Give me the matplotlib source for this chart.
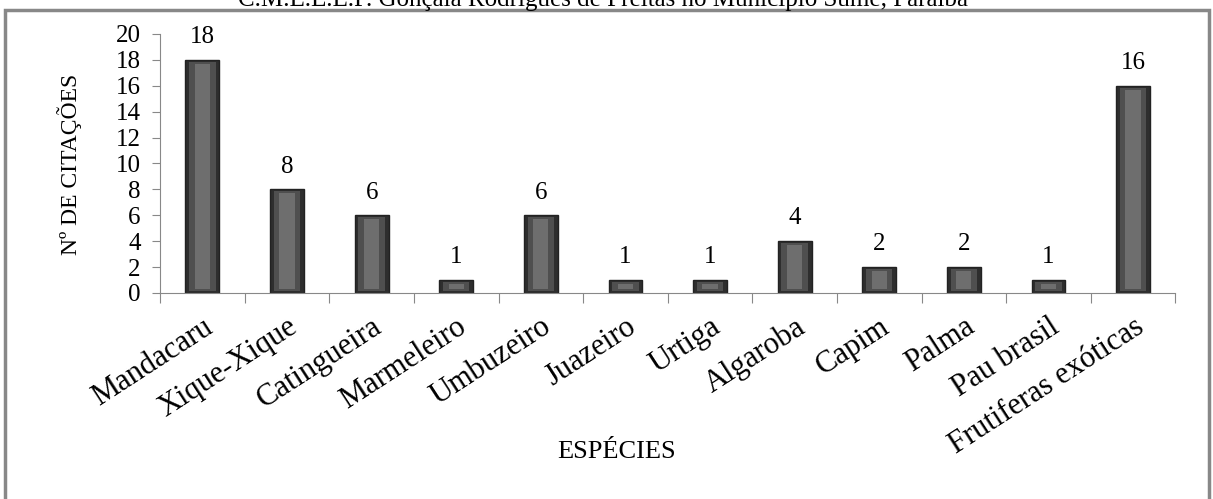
import matplotlib
matplotlib.use("Agg")
import matplotlib.pyplot as plt
from matplotlib.patches import Rectangle

especies = ["Mandacaru", "Xique-Xique", "Catingueira", "Marmeleiro", "Umbuzeiro",
            "Juazeiro", "Urtiga", "Algaroba", "Capim", "Palma", "Pau brasil",
            "Frutiferas exóticas"]
citacoes = [18, 8, 6, 1, 6, 1, 1, 4, 2, 2, 1, 16]
yticks = [0, 2, 4, 6, 8, 10, 12, 14, 16, 18, 20]

titulo = "C.M.E.E.E.F. Gonçala Rodrigues de Freitas no Município Sumé, Paraíba"

plt.rcParams["font.family"] = ["Liberation Serif", "DejaVu Serif"]

fig = plt.figure(figsize=(12.13, 4.99), dpi=100)
ax = fig.add_axes([0.132, 0.413, 0.837, 0.519])

x = list(range(len(especies)))
w = 0.4
# layered bars to fake the bevelled look of the original
ax.bar(x, citacoes, width=w, color="#2e2e2e", edgecolor="#222222", linewidth=1, zorder=2)
ax.bar(x, [v - 0.3 for v in citacoes], bottom=0.15, width=w * 0.78,
       color="#4f4f4f", linewidth=0, zorder=3)
ax.bar(x, [v - 0.6 for v in citacoes], bottom=0.3, width=w * 0.45,
       color="#6e6e6e", linewidth=0, zorder=4)

for xi, v in zip(x, citacoes):
    ax.text(xi, v + 0.9, str(v), ha="center", va="bottom", fontsize=18)

ax.set_xlim(-0.5, len(especies) - 0.5)
ax.set_ylim(0, 20)
ax.set_yticks(yticks)
ax.set_yticklabels([str(t) for t in yticks], fontsize=18)

ax.set_xticks([i - 0.5 for i in range(len(especies) + 1)], minor=False)
ax.set_xticklabels([""] * (len(especies) + 1))
ax.set_xticks(x, minor=True)
ax.set_xticklabels(especies, minor=True, rotation=33, ha="right",
                   rotation_mode="anchor", fontsize=22)
ax.tick_params(axis="x", which="minor", length=0, pad=14)
ax.tick_params(axis="x", which="major", length=7, color="#888888", direction="out")
ax.tick_params(axis="y", length=6, color="#888888", pad=8)

for s in ["top", "right"]:
    ax.spines[s].set_visible(False)
ax.spines["left"].set_color("#888888")
ax.spines["bottom"].set_color("#888888")

fig.text(70 / 1213, 1 - 164 / 499, "Nº DE CITAÇÕES", rotation=90,
         ha="center", va="center", fontsize=17)
fig.text(617 / 1213, 1 - 452 / 499, "ESPÉCIES", ha="center", va="center", fontsize=19)

# outer frame, cut by the top of the page
fig.patches.append(Rectangle((5 / 1213, -0.02), 1204 / 1213, 1 - 10 / 499 + 0.02,
                             transform=fig.transFigure, fill=False,
                             edgecolor="#888888", linewidth=2.5))
fig.text(0.497, 1 - 6 / 499, titulo, ha="center", va="baseline", fontsize=18)

fig.savefig("out.png", dpi=100)
